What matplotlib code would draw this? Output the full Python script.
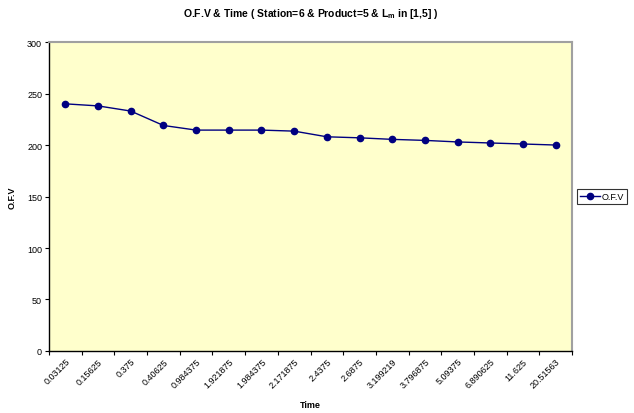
import matplotlib
matplotlib.use("Agg")
import matplotlib.pyplot as plt

plt.rcParams['font.family'] = ['Liberation Sans', 'DejaVu Sans']
plt.rcParams['mathtext.fontset'] = 'custom'
plt.rcParams['mathtext.rm'] = 'Liberation Sans:bold'
plt.rcParams['mathtext.it'] = 'Liberation Sans:bold'
plt.rcParams['mathtext.bf'] = 'Liberation Sans:bold'

time_labels = ["0.03125", "0.15625", "0.375", "0.40625", "0.984375", "1.921875",
               "1.984375", "2.171875", "2.4375", "2.6875", "3.199219", "3.796875",
               "5.09375", "6.890625", "11.625", "20.51563"]
ofv_values = [240, 238, 233, 219, 214.5, 214.5, 214.5, 213.5, 208, 207,
              205.5, 204.5, 203, 202, 201, 200]

fig = plt.figure(figsize=(6.34, 4.14), dpi=100)
ax = fig.add_axes([0.0773, 0.1498, 0.9022 - 0.0773, 0.896 - 0.1498])
ax.set_facecolor('#FFFFCC')

x = list(range(len(time_labels)))
ax.plot(x, ofv_values, color='#000080', marker='o', markersize=4.5, linewidth=1.0,
        label='O.F.V')

ax.set_xlim(-0.5, len(time_labels) - 0.5)
ax.set_ylim(0, 300)
ax.set_yticks(range(0, 301, 50))
ax.set_xticks([i - 0.5 for i in range(len(time_labels) + 1)], minor=False)
ax.set_xticklabels([])
ax.set_xticks(x, minor=True)
ax.set_xticklabels(time_labels, minor=True, rotation=45, ha='right',
                   rotation_mode='anchor', fontsize=6.5)
ax.tick_params(axis='x', which='minor', length=0, pad=4)
ax.tick_params(axis='x', which='major', length=3, width=0.8, direction='out')
ax.tick_params(axis='y', length=3, width=0.8, labelsize=6.5, pad=2)

for side in ['left', 'bottom']:
    ax.spines[side].set_color('black')
    ax.spines[side].set_linewidth(1.0)
for side in ['top', 'right']:
    ax.spines[side].set_color('#A0A0A0')
    ax.spines[side].set_linewidth(1.5)

ax.set_xlabel('Time', fontsize=6.5, fontweight='bold')
ax.xaxis.set_label_coords(0.499, -0.172)
ax.xaxis.label.set_va('center')
ax.set_ylabel('O.F.V', fontsize=6.5, fontweight='bold')
ax.yaxis.set_label_coords(-0.0707, 0.50)
ax.yaxis.label.set_va('center')
fig.text(0.49, 0.965, r'O.F.V & Time ( Station=6 & Product=5 & L$_{m}$ in [1,5] )',
         fontsize=7.5, fontweight='bold', ha='center', va='center')

leg = ax.legend(loc='center left', bbox_to_anchor=(1.005, 0.5), fontsize=6.5,
                frameon=True, fancybox=False, edgecolor='black',
                handlelength=2.2, borderpad=0.3, handletextpad=0.2,
                borderaxespad=0.3)
leg.get_frame().set_linewidth(0.8)

fig.savefig('out.png', dpi=100)
